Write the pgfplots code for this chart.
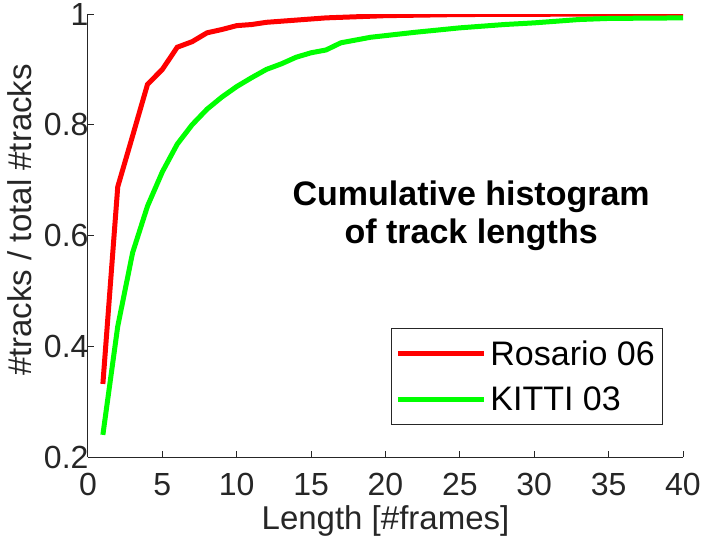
\documentclass[border=0pt]{standalone}
\usepackage{pgfplots}
\pgfplotsset{compat=1.18}
\usepackage{fontspec}
\setmainfont{Liberation Sans}
\definecolor{axgray}{RGB}{38,38,38}
\begin{document}
\begin{tikzpicture}
\path[use as bounding box] (-88bp,-83bp) rectangle (617bp,457bp);
\begin{axis}[
  at={(0,0)}, anchor=south west,
  scale only axis, width=595bp, height=443bp,
  xmin=0, xmax=40, ymin=0.2, ymax=1,
  axis x line*=bottom, axis y line*=left,
  axis line style={axgray, line width=1bp, -},
  tick style={axgray, line width=1bp},
  tick align=inside, major tick length=6bp,
  xtick={0,5,...,40}, ytick={0.2,0.4,0.6,0.8,1},
  /pgf/number format/assume math mode=true,
  yticklabel style={/pgf/number format/fixed, /pgf/number format/precision=1, xshift=4bp},
  xticklabel style={yshift=-13bp},
  tick label style={font=\fontsize{32bp}{36bp}\selectfont, text=axgray},
  label style={font=\fontsize{33bp}{36bp}\selectfont, text=axgray},
  xlabel={Length [\#frames]},
  xlabel style={at={(axis description cs:0.5,0)}, anchor=north, yshift=-45bp},
  ylabel={\#tracks / total \#tracks},
  ylabel style={at={(axis description cs:-0.114,0.535)}, anchor=center, rotate=0},
  legend style={at={(rel axis cs:0.967,0.2905)}, anchor=north east,
    draw=axgray, line width=1bp, font=\fontsize{34bp}{38bp}\selectfont,
    text=black, inner xsep=4bp, inner ysep=8bp, row sep=12bp,
    nodes={inner xsep=4bp, inner ysep=4bp}},
  legend cell align=left,
  legend image code/.code={\draw[#1] (0bp,0bp) -- (86bp,0bp);},
]
\addplot[red, line width=5bp] coordinates {
(1,0.332) (2,0.688) (3,0.78) (4,0.873) (5,0.900) (6,0.940) (7,0.950) (8,0.966)
(9,0.972) (10,0.979) (11,0.981) (12,0.985) (13,0.987) (14,0.989) (15,0.991)
(16,0.993) (17,0.994) (18,0.995) (20,0.997) (25,0.999) (30,0.9995) (40,1.0)
};
\addlegendentry{Rosario 06}
\addplot[color={rgb,255:red,0;green,255;blue,0}, line width=5bp] coordinates {
(1,0.24) (2,0.436) (3,0.569) (4,0.653) (5,0.715) (6,0.765) (7,0.800) (8,0.828)
(9,0.850) (10,0.869) (11,0.885) (12,0.900) (13,0.910) (14,0.922) (15,0.930)
(16,0.935) (17,0.948) (18,0.953) (19,0.958) (20,0.961) (22,0.967) (25,0.975)
(28,0.981) (30,0.984) (33,0.990) (35,0.992) (40,0.993)
};
\addlegendentry{KITTI 03}
\node[font=\fontsize{34bp}{38bp}\selectfont\bfseries, align=center] at (rel axis cs:0.644,0.544)
  {Cumulative histogram\\of track lengths};
\end{axis}
\end{tikzpicture}
\end{document}
